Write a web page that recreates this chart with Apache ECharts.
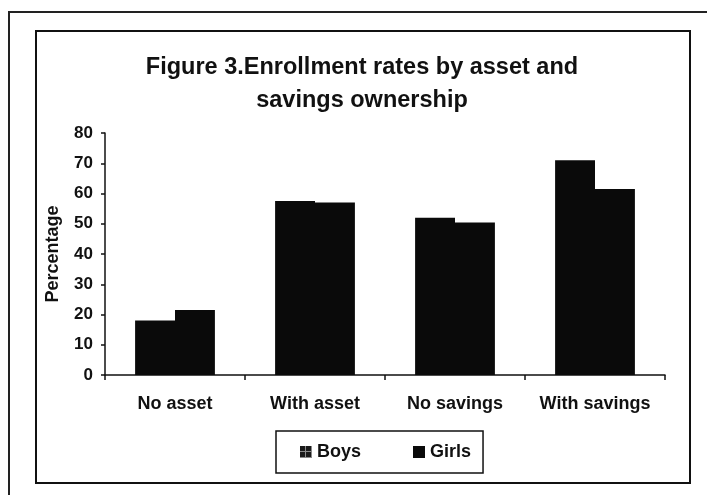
<!DOCTYPE html>
<html>
<head>
<meta charset="utf-8">
<script src="https://cdn.jsdelivr.net/npm/echarts@6/dist/echarts.min.js"></script>
<style>
  html, body { margin: 0; padding: 0; background: #fff; }
  #chart { width: 707px; height: 495px; }
</style>
</head>
<body>
<div id="chart"></div>
<script>
// Enrollment rates (%) by asset and savings ownership
const categories = ['No asset', 'With asset', 'No savings', 'With savings'];
const boys = [18, 57.5, 52, 71];
const girls = [21.5, 57, 50.4, 61.5];
const yTicks = { min: 0, max: 80, step: 10 };

// small hatched swatch for the Boys legend key
function gridSwatch() {
  const c = document.createElement('canvas');
  c.width = 6; c.height = 6;
  const g = c.getContext('2d');
  g.fillStyle = '#1a1a1a';
  g.fillRect(0, 0, 6, 6);
  g.fillStyle = '#8a8a8a';
  g.fillRect(0, 5, 6, 1);
  g.fillRect(5, 0, 1, 6);
  return c;
}

const font = 'Liberation Sans, Arial, sans-serif';
const chart = echarts.init(document.getElementById('chart'), null, { renderer: 'canvas' });

chart.setOption({
  animation: false,
  backgroundColor: '#fff',
  title: {
    text: 'Figure 3.Enrollment rates by asset and\nsavings ownership',
    left: 357,
    top: 46,
    textAlign: 'center',
    textStyle: {
      fontFamily: font, fontWeight: 'bold', fontSize: 23.5, lineHeight: 33, color: '#111'
    }
  },
  legend: {
    left: 276,
    bottom: 22,
    itemWidth: 12,
    itemHeight: 12,
    itemGap: 52,
    padding: [12, 12, 12, 24],
    borderColor: '#111',
    borderWidth: 1.5,
    textStyle: { fontFamily: font, fontWeight: 'bold', fontSize: 18, color: '#111' },
    data: [
      { name: 'Boys', icon: 'rect', itemStyle: { color: { image: gridSwatch(), repeat: 'repeat' } } },
      { name: 'Girls', icon: 'rect' }
    ]
  },
  grid: { left: 105, right: 42, top: 133, bottom: 120 },
  xAxis: {
    type: 'category',
    data: categories,
    axisLine: { lineStyle: { color: '#111', width: 1.5 } },
    axisTick: { show: true, interval: 0, alignWithLabel: false, length: 5, lineStyle: { color: '#111', width: 1.5 } },
    axisLabel: { interval: 0, margin: 20, fontFamily: font, fontWeight: 'bold', fontSize: 18, color: '#111' }
  },
  yAxis: {
    type: 'value',
    min: yTicks.min,
    max: yTicks.max,
    interval: yTicks.step,
    name: 'Percentage',
    nameLocation: 'middle',
    nameGap: 43,
    nameRotate: 90,
    nameTextStyle: { fontFamily: font, fontWeight: 'bold', fontSize: 18, color: '#111' },
    axisLine: { show: true, lineStyle: { color: '#111', width: 1.5 } },
    axisTick: { show: true, length: 4, lineStyle: { color: '#111', width: 1.5 } },
    axisLabel: { margin: 12, fontFamily: font, fontWeight: 'bold', fontSize: 17, color: '#111' },
    splitLine: { show: false }
  },
  series: [
    {
      name: 'Boys', type: 'bar', data: boys,
      barGap: '0%', barCategoryGap: '43%',
      itemStyle: { color: '#0a0a0a' }
    },
    {
      name: 'Girls', type: 'bar', data: girls,
      itemStyle: { color: '#0a0a0a' }
    }
  ],
  graphic: [
    // outer page frame
    { type: 'rect', shape: { x: 9, y: 12, width: 720, height: 500 },
      style: { fill: 'none', stroke: '#222', lineWidth: 2 }, silent: true },
    // chart area border
    { type: 'rect', shape: { x: 36, y: 31, width: 654, height: 452 },
      style: { fill: 'none', stroke: '#111', lineWidth: 2 }, silent: true }
  ]
});
</script>
</body>
</html>
